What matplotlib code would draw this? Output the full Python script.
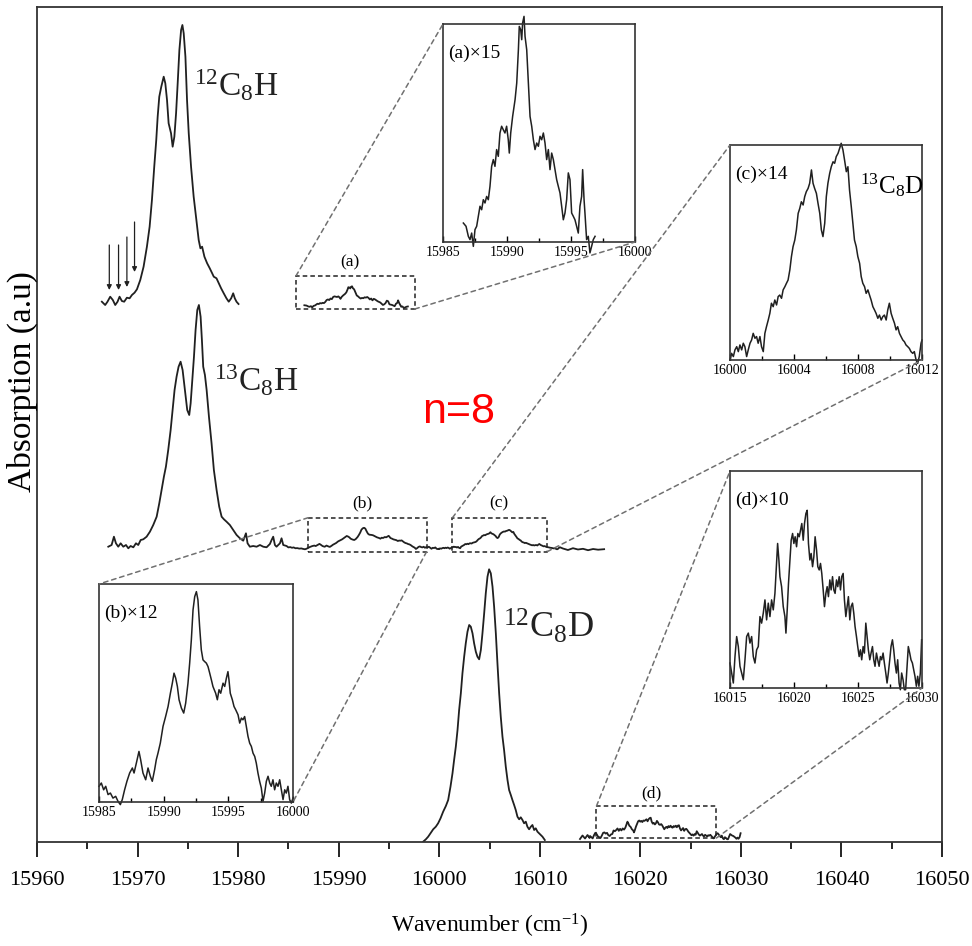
import matplotlib
matplotlib.use("Agg")
import matplotlib.pyplot as plt
from matplotlib.patches import Rectangle, ConnectionPatch

plt.rcParams['font.family'] = ['Liberation Serif', 'DejaVu Serif']
plt.rcParams['mathtext.fontset'] = 'custom'
plt.rcParams['mathtext.rm'] = 'Liberation Serif'
plt.rcParams['mathtext.it'] = 'Liberation Serif:italic'
plt.rcParams['mathtext.bf'] = 'Liberation Serif:bold'

# ---------------- data (wavenumber, absorption a.u.) ----------------
c12h = [(15966.45, 538.3), (15966.78, 535), (15967.01, 538.3), (15967.28, 543.3), (15967.54, 540),
        (15967.78, 535), (15968.01, 538.3), (15968.21, 543.3), (15968.44, 539), (15968.67, 538.3),
        (15968.94, 542.3), (15969.21, 541.7), (15969.44, 545), (15969.70, 547.3), (15969.94, 550.7),
        (15970.27, 560), (15970.60, 573.3), (15970.93, 593.3), (15971.20, 613.3), (15971.43, 640),
        (15971.66, 673.3), (15971.86, 700), (15972.00, 723.3), (15972.16, 743.3), (15972.36, 753.3),
        (15972.60, 763.3), (15972.76, 756.7), (15972.93, 740), (15973.09, 716.7), (15973.33, 706.7),
        (15973.49, 693.3), (15973.66, 703.3), (15973.83, 726.7), (15973.99, 756.7), (15974.16, 790),
        (15974.33, 810), (15974.46, 815), (15974.59, 806.7), (15974.76, 783.3), (15974.92, 740),
        (15975.09, 706.7), (15975.32, 673.3), (15975.58, 643.3), (15975.85, 620), (15976.08, 600),
        (15976.25, 591.7), (15976.42, 593.3), (15976.65, 583.3), (15976.92, 576.7), (15977.18, 571.7),
        (15977.42, 566.7), (15977.58, 563.3), (15977.85, 561.7), (15978.08, 556.7), (15978.31, 551.7),
        (15978.57, 546.7), (15978.84, 541.7), (15979.07, 538.3), (15979.31, 541.7), (15979.51, 546.7),
        (15979.67, 541.7), (15979.84, 538.3), (15980.04, 536)]

c13h = [(15967.09, 293.3), (15967.42, 295), (15967.65, 303.3), (15967.85, 296.7), (15968.08, 293.3),
        (15968.32, 296.7), (15968.58, 293.3), (15968.85, 295), (15969.08, 291.7), (15969.31, 294),
        (15969.58, 292.7), (15969.84, 296.7), (15970.07, 295), (15970.31, 300), (15970.57, 300.7),
        (15970.90, 303.3), (15971.23, 308.3), (15971.56, 315), (15971.90, 323.3), (15972.16, 336.7),
        (15972.39, 350), (15972.62, 363.3), (15972.82, 373.3), (15973.05, 390), (15973.29, 410),
        (15973.49, 430), (15973.68, 450), (15973.88, 463.3), (15974.08, 473.3), (15974.28, 478.3),
        (15974.48, 470), (15974.71, 450), (15974.94, 430), (15975.14, 425), (15975.28, 436.7),
        (15975.44, 460), (15975.61, 483.3), (15975.77, 510), (15975.94, 530), (15976.10, 535),
        (15976.27, 523.3), (15976.40, 500), (15976.53, 473.3), (15976.70, 465), (15976.87, 450),
        (15977.10, 423.3), (15977.36, 396.7), (15977.59, 370), (15977.86, 350), (15978.12, 333.3),
        (15978.36, 323.3), (15978.59, 320.7), (15978.85, 318.3), (15979.18, 315), (15979.52, 310),
        (15979.85, 305), (15980.18, 301.7), (15980.51, 299.3), (15980.78, 306.7), (15980.94, 296.7),
        (15981.17, 293.3), (15981.50, 294), (15981.84, 293.3), (15982.17, 295), (15982.50, 293.3),
        (15982.83, 292.7), (15983.16, 296), (15983.33, 300), (15983.49, 303.3), (15983.66, 295),
        (15983.82, 293.3), (15984.16, 296.7), (15984.32, 301.7), (15984.49, 295), (15984.82, 294)]

c13h_tail = [(16012.3, 291.5), (16012.8, 290.0), (16013.3, 291.8), (16013.8, 290.5), (16014.3, 291.2),
             (16014.8, 289.8), (16015.3, 291.0), (16015.8, 290.3), (16016.4, 290.8)]

c12d = [(15998.40, -1.7), (15998.67, 0.7), (15998.90, 3.3), (15999.13, 6.7), (15999.40, 10.7),
        (15999.66, 13.3), (15999.89, 16.7), (16000.13, 21.7), (16000.39, 28.3), (16000.66, 34),
        (16000.89, 40), (16001.12, 53.3), (16001.32, 66.7), (16001.48, 80), (16001.65, 93.3),
        (16001.82, 110), (16001.98, 130), (16002.15, 146.7), (16002.31, 166.7), (16002.48, 183.3),
        (16002.64, 196.7), (16002.81, 208.3), (16002.98, 215), (16003.14, 213.3), (16003.31, 206.7),
        (16003.47, 196.7), (16003.64, 188.3), (16003.80, 183.3), (16003.97, 180.7), (16004.14, 190),
        (16004.30, 206.7), (16004.47, 226.7), (16004.63, 246.7), (16004.80, 263.3), (16004.96, 270.7),
        (16005.13, 266.7), (16005.30, 253.3), (16005.46, 233.3), (16005.63, 206.7), (16005.79, 176.7),
        (16005.96, 146.7), (16006.12, 123.3), (16006.29, 103.3), (16006.45, 90), (16006.62, 73.3),
        (16006.79, 60), (16006.95, 50), (16007.12, 45), (16007.28, 40), (16007.45, 35),
        (16007.61, 30), (16007.78, 23.3), (16007.95, 20.7), (16008.11, 22.7), (16008.28, 20),
        (16008.44, 16.7), (16008.61, 18.3), (16008.77, 13.3), (16008.94, 10.7), (16009.11, 13.3),
        (16009.27, 15), (16009.44, 10), (16009.60, 11.7), (16009.77, 8.3), (16009.93, 6.7),
        (16010.10, 5), (16010.27, 3.3), (16010.50, 0)]

c12d_pre = [(16014.0, 1.0), (16014.25, 4.5), (16014.5, 1.5), (16014.75, 5.0), (16014.95, 2.0)]

# magnified weak bands (inset units, 0-100)
band_a = [(15986.59, 8.7), (15986.80, 7.2), (15986.98, 2.6), (15987.11, 1.1), (15987.24, 4.1),
          (15987.37, -2.0), (15987.50, 5.7), (15987.63, 7.2), (15987.76, 11.8), (15987.89, 16.4),
          (15988.02, 14.8), (15988.15, 19.4), (15988.28, 17.9), (15988.41, 20.9), (15988.54, 19.4),
          (15988.67, 25.5), (15988.80, 34.7), (15988.93, 37.8), (15989.06, 34.7), (15989.19, 42.4),
          (15989.32, 39.3), (15989.45, 50.0), (15989.58, 53.1), (15989.71, 51.5), (15989.84, 50.0),
          (15989.97, 53.1), (15990.10, 46.9), (15990.18, 40.8), (15990.29, 50.0), (15990.44, 57.6),
          (15990.63, 65.3), (15990.76, 72.9), (15990.89, 88.2), (15990.96, 98.9), (15991.07, 97.4),
          (15991.15, 92.8), (15991.22, 100.5), (15991.33, 103.5), (15991.41, 94.3), (15991.54, 88.2),
          (15991.67, 72.9), (15991.80, 57.6), (15991.93, 53.1), (15992.06, 46.9), (15992.19, 42.4),
          (15992.32, 45.4), (15992.45, 43.9), (15992.58, 48.5), (15992.71, 46.9), (15992.84, 50.0),
          (15992.97, 45.4), (15993.10, 37.8), (15993.23, 42.4), (15993.36, 33.2), (15993.49, 40.8),
          (15993.62, 37.8), (15993.75, 33.2), (15993.88, 28.6), (15994.01, 25.5), (15994.14, 22.5),
          (15994.27, 16.4), (15994.40, 10.2), (15994.53, 13.3), (15994.66, 19.4), (15994.79, 31.7),
          (15994.92, 28.6), (15995.05, 13.3), (15995.18, 11.8), (15995.31, 10.2), (15995.44, 7.2),
          (15995.57, 4.1), (15995.70, 16.4), (15995.83, 20.9), (15995.91, 33.2), (15996.02, 19.4),
          (15996.09, 13.3), (15996.17, 5.7), (15996.22, 1.1), (15996.35, 2.6), (15996.48, -5.0),
          (15996.61, -2.0), (15996.74, 1.1), (15996.88, 2.6)]

band_b = [(15985.00, 7.2), (15985.18, 8.7), (15985.36, 5.6), (15985.52, 7.2), (15985.70, 3.4),
          (15985.88, 4.1), (15986.08, 1.8), (15986.29, 2.6), (15986.47, 0.3), (15986.65, -1.2),
          (15986.80, 1.1), (15986.98, 5.6), (15987.16, 9.5), (15987.37, 13.3), (15987.58, 15.6),
          (15987.71, 13.3), (15987.89, 17.9), (15988.09, 23.2), (15988.22, 19.4), (15988.40, 13.3),
          (15988.61, 10.2), (15988.79, 15.6), (15988.97, 11.8), (15989.12, 9.5), (15989.30, 14.8),
          (15989.43, 19.4), (15989.56, 22.4), (15989.74, 27.0), (15989.95, 34.7), (15990.15, 39.2),
          (15990.34, 43.8), (15990.52, 49.9), (15990.67, 54.5), (15990.80, 59.1), (15990.93, 56.8),
          (15991.06, 53.0), (15991.19, 46.9), (15991.37, 43.1), (15991.55, 40.8), (15991.70, 45.3),
          (15991.88, 54.5), (15992.01, 63.7), (15992.14, 74.4), (15992.27, 88.1), (15992.40, 94.2),
          (15992.53, 96.5), (15992.65, 92.7), (15992.78, 80.5), (15992.91, 69.8), (15993.04, 65.2),
          (15993.17, 64.4), (15993.30, 63.7), (15993.43, 62.1), (15993.56, 59.1), (15993.69, 56.0),
          (15993.81, 53.0), (15994.02, 49.9), (15994.15, 46.9), (15994.28, 51.5), (15994.41, 49.9),
          (15994.59, 54.5), (15994.72, 53.0), (15994.85, 56.8), (15994.97, 59.8), (15995.05, 56.0),
          (15995.15, 49.9), (15995.31, 46.9), (15995.44, 43.8), (15995.57, 42.3), (15995.75, 40.0),
          (15995.88, 36.2), (15996.01, 38.5), (15996.13, 37.7), (15996.26, 39.2), (15996.39, 34.7),
          (15996.52, 30.1), (15996.65, 27.0), (15996.78, 25.5), (15996.91, 22.4), (15997.04, 20.9),
          (15997.16, 17.9), (15997.29, 13.3), (15997.42, 9.5), (15997.55, 6.4), (15997.68, 0.3),
          (15997.81, 4.1), (15997.94, 9.5), (15998.07, 11.8), (15998.20, 8.7), (15998.32, 7.2),
          (15998.45, 10.2), (15998.58, 5.6), (15998.71, 8.7), (15998.84, 7.2), (15998.97, 10.2),
          (15999.10, 5.6), (15999.23, 1.1), (15999.36, 5.6), (15999.48, 4.1), (15999.61, 7.2),
          (15999.74, 1.1), (15999.87, -0.5), (16000.00, 1.8)]

band_c_x = [16000.00, 16000.10, 16000.21, 16000.31, 16000.42, 16000.52, 16000.62, 16000.73, 16000.83,
            16000.93, 16001.04, 16001.14, 16001.25, 16001.35, 16001.45, 16001.56, 16001.66, 16001.76,
            16001.87, 16001.97, 16002.08, 16002.18, 16002.28, 16002.39, 16002.49, 16002.59, 16002.70,
            16002.80, 16002.91, 16003.01, 16003.11, 16003.22, 16003.32, 16003.43, 16003.53, 16003.63,
            16003.74, 16003.84, 16003.94, 16004.05, 16004.15, 16004.26, 16004.36, 16004.46, 16004.57,
            16004.67, 16004.77, 16004.88, 16004.98, 16005.09, 16005.19, 16005.29, 16005.40, 16005.50,
            16005.61, 16005.71, 16005.81, 16005.92, 16006.02, 16006.12, 16006.23, 16006.33, 16006.44,
            16006.54, 16006.64, 16006.75, 16006.85, 16006.95, 16007.06, 16007.16, 16007.27, 16007.37,
            16007.47, 16007.58, 16007.68, 16007.78, 16007.89, 16007.99, 16008.10, 16008.20, 16008.30,
            16008.41, 16008.51, 16008.62, 16008.72, 16008.82, 16008.93, 16009.03, 16009.13, 16009.24,
            16009.34, 16009.45, 16009.55, 16009.65, 16009.76, 16009.86, 16009.96, 16010.07, 16010.17,
            16010.28, 16010.38, 16010.48, 16010.59, 16010.69, 16010.80, 16010.90, 16011.00, 16011.11,
            16011.21, 16011.31, 16011.42, 16011.52, 16011.63, 16011.73, 16011.83, 16011.94, 16012.00]
band_c_y = [0, 3.1, 1.6, 4.7, 6.2, 3.9, 7.0, 4.7, 7.8, 6.2, 1.6, 4.7, 7.8, 9.3, 12.4, 10.1, 10.9, 7.8,
            10.9, 6.2, 3.9, 12.4, 15.5, 18.6, 21.7, 26.4, 24.8, 27.9, 25.6, 29.5, 30.2, 28.7, 32.6, 34.1,
            35.7, 37.2, 41.9, 48.1, 52.7, 55.8, 60.5, 68.2, 70.5, 73.6, 72.1, 76.0, 78.3, 79.8, 82.2, 88.4,
            82.2, 79.8, 77.5, 72.9, 68.2, 60.5, 57.4, 63.6, 76.0, 82.2, 86.8, 89.9, 92.2, 91.5, 94.6, 96.1,
            98.4, 100.8, 97.7, 93.0, 87.6, 89.9, 79.1, 71.3, 63.6, 55.8, 52.7, 48.1, 45.0, 38.8, 35.7, 34.1,
            31.0, 32.6, 30.2, 27.9, 24.8, 23.3, 21.7, 19.4, 20.9, 18.6, 20.2, 20.9, 18.6, 23.3, 26.4, 21.7,
            19.4, 17.1, 14.0, 15.5, 12.4, 10.9, 9.3, 8.5, 7.0, 6.2, 5.4, 3.9, 3.1, 3.9, 0, -1.6, 1.6, 7.8, 9.3]

band_d = [(16015.00, 11.5), (16015.13, 6.9), (16015.26, 2.3), (16015.39, 14.5), (16015.52, 23.7),
          (16015.65, 19.1), (16015.78, 10.0), (16015.91, 6.9), (16016.04, 3.8), (16016.17, 13.0),
          (16016.30, 23.7), (16016.43, 25.3), (16016.56, 20.7), (16016.69, 23.7), (16016.82, 14.5),
          (16016.95, 11.5), (16017.08, 17.6), (16017.21, 19.1), (16017.34, 32.9), (16017.47, 29.9),
          (16017.60, 34.5), (16017.73, 40.6), (16017.86, 31.4), (16017.99, 39.1), (16018.12, 32.9),
          (16018.25, 40.6), (16018.38, 36.0), (16018.51, 43.6), (16018.64, 57.4), (16018.72, 66.6),
          (16018.82, 59.0), (16018.90, 51.3), (16019.03, 46.7), (16019.16, 37.5), (16019.29, 32.9),
          (16019.37, 25.3), (16019.47, 36.0), (16019.57, 48.2), (16019.68, 59.0), (16019.78, 68.1),
          (16019.89, 71.2), (16019.99, 66.6), (16020.09, 69.7), (16020.20, 65.1), (16020.30, 71.2),
          (16020.41, 69.7), (16020.51, 72.7), (16020.61, 75.8), (16020.72, 68.1), (16020.82, 75.8),
          (16020.93, 80.4), (16021.03, 81.9), (16021.13, 66.6), (16021.24, 59.0), (16021.34, 62.0),
          (16021.45, 55.9), (16021.55, 60.5), (16021.65, 69.7), (16021.76, 63.6), (16021.86, 55.9),
          (16021.97, 54.4), (16022.07, 57.4), (16022.17, 52.8), (16022.28, 45.2), (16022.38, 37.5),
          (16022.49, 43.6), (16022.59, 46.7), (16022.69, 42.1), (16022.80, 49.8), (16022.90, 45.2),
          (16023.01, 51.3), (16023.11, 45.2), (16023.21, 43.6), (16023.32, 49.8), (16023.42, 46.7),
          (16023.53, 51.3), (16023.63, 45.2), (16023.73, 51.3), (16023.84, 52.8), (16023.94, 40.6),
          (16024.05, 32.9), (16024.15, 37.5), (16024.25, 42.1), (16024.36, 31.4), (16024.46, 37.5),
          (16024.57, 39.1), (16024.67, 34.5), (16024.77, 28.3), (16024.88, 23.7), (16024.98, 19.1),
          (16025.09, 14.5), (16025.19, 17.6), (16025.29, 13.0), (16025.40, 19.1), (16025.50, 16.1),
          (16025.61, 29.9), (16025.71, 23.7), (16025.81, 17.6), (16025.92, 13.0), (16026.02, 16.1),
          (16026.13, 19.1), (16026.23, 13.0), (16026.33, 10.0), (16026.44, 16.1), (16026.54, 13.0),
          (16026.65, 10.0), (16026.75, 14.5), (16026.85, 13.0), (16026.96, 16.1), (16027.06, 11.5),
          (16027.17, 6.9), (16027.27, 2.3), (16027.37, 6.9), (16027.48, 13.0), (16027.58, 19.1),
          (16027.69, 22.2), (16027.79, 17.6), (16027.89, 11.5), (16028.00, 6.9), (16028.10, 13.0),
          (16028.21, 2.3), (16028.31, -0.8), (16028.41, 6.9), (16028.52, 3.8), (16028.62, -0.8),
          (16028.72, -0.8), (16028.83, 10.0), (16028.93, 19.1), (16029.04, 16.1), (16029.14, 13.0),
          (16029.25, 11.5), (16029.35, 8.4), (16029.45, 5.4), (16029.56, 0.8), (16029.66, 5.4),
          (16029.76, 0.8), (16029.87, 6.9), (16029.97, 22.2)]

# baseline (a.u.) and scale from inset units to main-plot units for each weak band
band_base = {'a': 533.0, 'b': 291.0, 'c': 291.0, 'd': 1.0}
band_scale = {'a': 0.20, 'b': 0.22, 'c': 0.19, 'd': 0.26}
band_boxes = {'a': (15985.75, 15997.57, 531, 564), 'b': (15986.97, 15998.74, 288.3, 322.3),
              'c': (16001.32, 16010.73, 288.3, 322.3), 'd': (16015.64, 16027.57, 2, 34)}
band_label_pos = {'a': (15991.1, 578), 'b': (15992.4, 337), 'c': (16005.9, 337), 'd': (16021.1, 47)}
magnify = {'a': '(a)×15', 'b': '(b)×12', 'c': '(c)×14', 'd': '(d)×10'}
inset_xlim = {'a': (15985, 16000), 'b': (15985, 16000), 'c': (16000, 16012), 'd': (16015, 16030)}
inset_major = {'a': [15985, 15990, 15995, 16000], 'b': [15985, 15990, 15995, 16000],
               'c': [16000, 16004, 16008, 16012], 'd': [16015, 16020, 16025, 16030]}
inset_minor = {'a': [15987.5, 15992.5, 15997.5], 'b': [15987.5, 15992.5, 15997.5],
               'c': [16002, 16006, 16010], 'd': [16017.5, 16022.5, 16027.5]}

arrow_x = [15967.19, 15968.11, 15968.94, 15969.70]
arrow_top = [595, 595, 603, 618]
arrow_tip = [550, 550, 553, 568]

xticks_major = list(range(15960, 16051, 10))
xticks_minor = list(range(15965, 16050, 10))

LC = '#202020'

def xy(pairs):
    return [p[0] for p in pairs], [p[1] for p in pairs]

def scaled(key, xs, ys):
    return list(xs), [band_base[key] + band_scale[key] * v for v in ys]

bands = {'a': xy(band_a), 'b': xy(band_b), 'c': (band_c_x, band_c_y), 'd': xy(band_d)}

# ---------------- figure ----------------
fig = plt.figure(figsize=(9.72, 9.46), dpi=100)
ax = fig.add_axes([37/972, (946-842)/946, 905/972, 835/946])

# 12C8H
x, y = xy(c12h)
ax.plot(x, y, color=LC, lw=1.3)
xa, ya = scaled('a', *bands['a'])
ax.plot(xa, ya, color=LC, lw=1.3)

# 13C8H with bands b and c
x, y = xy(c13h)
xb, yb = scaled('b', *bands['b'])
xc, yc = scaled('c', *bands['c'])
xt, yt = xy(c13h_tail)
ax.plot(x + xb + xc + xt, y + yb + yc + yt, color=LC, lw=1.3)

# 12C8D with band d
x, y = xy(c12d)
ax.plot(x, y, color=LC, lw=1.3)
xp, yp = xy(c12d_pre)
xd, yd = scaled('d', *bands['d'])
ax.plot(xp + xd, yp + yd, color=LC, lw=1.3)

for xa_, t, h in zip(arrow_x, arrow_top, arrow_tip):
    ax.annotate('', xy=(xa_, h), xytext=(xa_, t),
                arrowprops=dict(arrowstyle='-|>', color=LC, lw=0.9, mutation_scale=7,
                                shrinkA=0, shrinkB=0))

ax.set_xlim(15960, 16050)
ax.set_ylim(-2, 833)
ax.set_xticks(xticks_major)
ax.set_xticks(xticks_minor, minor=True)
ax.set_yticks([])
ax.tick_params(axis='x', which='major', direction='out', length=10.5, width=1.2, labelsize=16, pad=10.5)
ax.tick_params(axis='x', which='minor', direction='out', length=5, width=1.2)
for s in ax.spines.values():
    s.set_linewidth(1.3)
    s.set_color('#333333')

ax.text(0.5, -0.101, 'Wavenumber (cm$^{\\mathregular{-1}}$)', transform=ax.transAxes,
        ha='center', va='center', fontsize=17)
ax.text(-0.0166, 0.551, 'Absorption (a.u)', transform=ax.transAxes, rotation=90,
        ha='center', va='center', fontsize=24)

ax.text(15975.6, 744, r'$\mathregular{^{12}C_8H}$', fontsize=24, ha='left', va='baseline', color='#222222')
ax.text(15977.6, 449, r'$\mathregular{^{13}C_8H}$', fontsize=24, ha='left', va='baseline', color='#222222')
ax.text(16006.3, 202, r'$\mathregular{^{12}C_8D}$', fontsize=26, ha='left', va='baseline', color='#222222')
ax.text(16001.9, 428, 'n=8', fontsize=31, color='#ff0000', ha='center', va='center',
        family=['Liberation Sans', 'DejaVu Sans'])

# dashed boxes and labels
for k, (x0, x1, y0, y1) in band_boxes.items():
    ax.add_patch(Rectangle((x0, y0), x1 - x0, y1 - y0, fill=False, ls=(0, (3, 2)), lw=1.1,
                           ec='#222222', zorder=3))
    lx, ly = band_label_pos[k]
    ax.text(lx, ly, '(%s)' % k, fontsize=12.5, ha='center', va='center')

# ---------------- insets ----------------
inset_rects = {'a': [443/972, (946-242)/946, 192/972, 218/946],
               'b': [99/972, (946-802)/946, 194/972, 218/946],
               'c': [730/972, (946-360)/946, 192/972, 215/946],
               'd': [730/972, (946-688)/946, 192/972, 217/946]}

insets = {}
for k in ['a', 'b', 'c', 'd']:
    axi = fig.add_axes(inset_rects[k])
    bx, by = bands[k]
    axi.plot(bx, by, color=LC, lw=1.1, clip_on=False)
    axi.set_xlim(*inset_xlim[k])
    axi.set_ylim(0, 100)
    axi.set_xticks(inset_major[k])
    axi.set_xticks(inset_minor[k], minor=True)
    axi.set_yticks([])
    axi.tick_params(axis='x', which='major', direction='in', length=4, width=1, labelsize=10, pad=3)
    axi.tick_params(axis='x', which='minor', direction='in', length=3, width=1)
    for s in axi.spines.values():
        s.set_linewidth(1.2)
        s.set_color('#333333')
    axi.text(0.025, 0.865, magnify[k], transform=axi.transAxes, fontsize=14, ha='left', va='center')
    insets[k] = axi

insets['c'].text(0.675, 0.775, r'$\mathregular{^{13}C_8D}$', transform=insets['c'].transAxes,
                 fontsize=18, ha='left', va='baseline')

# connector lines from boxes to insets
conn = {'a': [((0, 1), (0, 1)), ((1, 0), (1, 0))],
        'b': [((0, 1), (0, 1)), ((1, 0), (1, 0))],
        'c': [((0, 1), (0, 1)), ((1, 0), (1, 0))],
        'd': [((0, 1), (0, 1)), ((1, 0), (1, 0))]}
for k, pairs in conn.items():
    x0, x1, y0, y1 = band_boxes[k]
    for (fx, fy), inset_corner in pairs:
        pt = (x0 if fx == 0 else x1, y1 if fy == 1 else y0)
        cp = ConnectionPatch(xyA=pt, coordsA=ax.transData, xyB=inset_corner,
                             coordsB=insets[k].transAxes, ls=(0, (3, 2.5)), lw=1.1, color='#707070')
        fig.add_artist(cp)

fig.savefig('out.png', dpi=100)
